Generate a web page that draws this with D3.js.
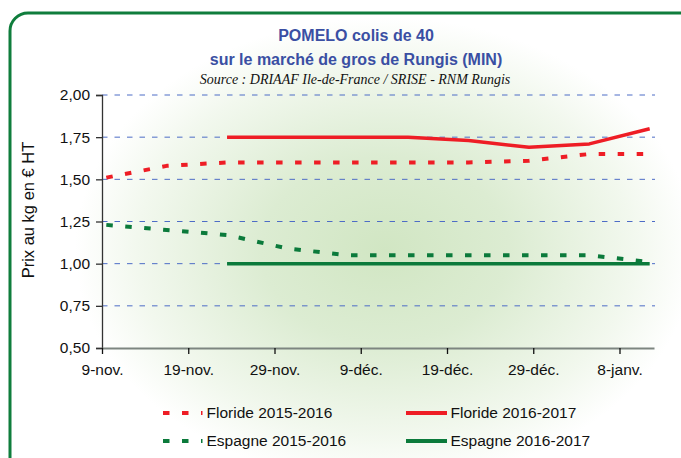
<!DOCTYPE html>
<html>
<head>
<meta charset="utf-8">
<script src="https://cdn.jsdelivr.net/npm/d3@7"></script>
<style>
  html, body { margin: 0; padding: 0; background: #fff; }
  svg { display: block; }
</style>
</head>
<body>
<svg id="chart" width="681" height="458"></svg>
<script>
// tick labels on the date axis (day offsets from 9-nov.)
const xTickDays = [0, 10, 20, 30, 40, 50, 60];
const xTickLabels = ["9-nov.", "19-nov.", "29-nov.", "9-déc.", "19-déc.", "29-déc.", "8-janv."];
const yTicks = [0.5, 0.75, 1.0, 1.25, 1.5, 1.75, 2.0];

// weekly quotations, day offset from 9-nov.
const days1516 = [0, 7, 14, 21, 28, 35, 42, 49, 56, 63];
const floride1516 = [1.51, 1.58, 1.60, 1.60, 1.60, 1.60, 1.60, 1.61, 1.65, 1.65];
const espagne1516 = [1.23, 1.20, 1.17, 1.09, 1.05, 1.05, 1.05, 1.05, 1.05, 1.01];

const days1617 = [14, 21, 28, 35, 42, 49, 56, 63];
const floride1617 = [1.75, 1.75, 1.75, 1.75, 1.73, 1.69, 1.71, 1.80];
const espagne1617 = [1.00, 1.00, 1.00, 1.00, 1.00, 1.00, 1.00, 1.00];

const RED = "#ee1d25";
const GREEN = "#0b7a3b";
const FONT = "'Liberation Sans', Arial, sans-serif";

const svg = d3.select("#chart");
const W = 681, H = 458;
const plot = { left: 102, right: 654, top: 95, bottom: 348 };

// background
const defs = svg.append("defs");
const grad = defs.append("radialGradient")
  .attr("id", "bg")
  .attr("gradientUnits", "userSpaceOnUse")
  .attr("cx", 385).attr("cy", 250).attr("r", 310)
  .attr("gradientTransform", "translate(385,250) scale(1,0.75) translate(-385,-250)");
grad.append("stop").attr("offset", 0).attr("stop-color", "#d1e6c3");
grad.append("stop").attr("offset", 0.4).attr("stop-color", "#dcecd2");
grad.append("stop").attr("offset", 0.8).attr("stop-color", "#f2f8ee");
grad.append("stop").attr("offset", 1).attr("stop-color", "#ffffff");

svg.append("rect")
  .attr("x", 10).attr("y", 13)
  .attr("width", W + 30).attr("height", H + 30)
  .attr("rx", 18)
  .attr("fill", "url(#bg)")
  .attr("stroke", "#0f7d3c")
  .attr("stroke-width", 3);

// title
const title = svg.append("g")
  .attr("text-anchor", "middle")
  .attr("font-family", FONT);
title.append("text")
  .attr("x", 356).attr("y", 41)
  .attr("font-size", 16).attr("font-weight", "bold")
  .attr("fill", "#3a4fa3")
  .text("POMELO colis de 40");
title.append("text")
  .attr("x", 356).attr("y", 64.5)
  .attr("font-size", 16).attr("font-weight", "bold")
  .attr("fill", "#3a4fa3")
  .text("sur le marché de gros de Rungis (MIN)");
title.append("text")
  .attr("x", 355).attr("y", 83.5)
  .attr("font-family", "'Liberation Serif', 'Times New Roman', serif")
  .attr("font-style", "italic")
  .attr("font-size", 14)
  .attr("fill", "#111")
  .text("Source : DRIAAF Ile-de-France / SRISE - RNM Rungis");

// scales
const x = d3.scaleLinear().domain([0, 64]).range([plot.left, plot.right]);
const y = d3.scaleLinear().domain([0.5, 2.0]).range([plot.bottom, plot.top]);
// points sit in the middle of their day slot
const px = d => x(d + 0.5);

// gridlines
svg.append("g")
  .selectAll("line")
  .data(yTicks.filter(v => v > 0.5))
  .enter().append("line")
  .attr("x1", plot.left).attr("x2", plot.right + 1)
  .attr("y1", d => y(d)).attr("y2", d => y(d))
  .attr("stroke", "#4d6cc6")
  .attr("stroke-width", 1)
  .attr("stroke-dasharray", "5.5,7");

// axes
const yAxis = svg.append("g")
  .attr("transform", `translate(${plot.left},0)`)
  .call(d3.axisLeft(y).tickValues(yTicks).tickSize(6).tickPadding(6)
    .tickFormat(d => d3.format(".2f")(d).replace(".", ",")));
yAxis.select(".domain").attr("stroke", "#333").attr("stroke-width", 1.3);
yAxis.selectAll(".tick line").attr("stroke", "#333").attr("stroke-width", 1.3);
yAxis.selectAll("text")
  .attr("font-family", FONT)
  .attr("font-size", 15.5).attr("fill", "#111");

const xAxis = svg.append("g")
  .attr("transform", `translate(0,${plot.bottom})`)
  .call(d3.axisBottom(x).tickValues(xTickDays).tickSize(6).tickSizeOuter(0).tickPadding(10)
    .tickFormat((d, i) => xTickLabels[i]));
xAxis.select(".domain").attr("stroke", "#7d8580").attr("stroke-width", 2);
xAxis.selectAll(".tick line").attr("stroke", "#111").attr("stroke-width", 1.3);
xAxis.selectAll(".tick").filter(d => d === 0).select("line").attr("y1", 0);
xAxis.selectAll("text")
  .attr("font-family", FONT)
  .attr("font-size", 15.5).attr("fill", "#111");

// y axis title
svg.append("text")
  .attr("transform", "translate(34,210) rotate(-90)")
  .attr("text-anchor", "middle")
  .attr("font-family", FONT)
  .attr("font-size", 16.5).attr("fill", "#111")
  .text("Prix au kg en € HT");

// series
const series = [
  { name: "Floride 2015-2016", days: days1516, values: floride1516, color: RED, dashed: true },
  { name: "Floride 2016-2017", days: days1617, values: floride1617, color: RED, dashed: false },
  { name: "Espagne 2015-2016", days: days1516, values: espagne1516, color: GREEN, dashed: true },
  { name: "Espagne 2016-2017", days: days1617, values: espagne1617, color: GREEN, dashed: false }
];

const line = d3.line()
  .x(d => px(d[0]))
  .y(d => y(d[1]));

svg.append("g")
  .selectAll("path")
  .data(series)
  .enter().append("path")
  .attr("d", s => line(s.days.map((d, i) => [d, s.values[i]])))
  .attr("fill", "none")
  .attr("stroke", s => s.color)
  .attr("stroke-width", s => s.dashed ? 4 : 3.5)
  .attr("stroke-dasharray", s => s.dashed ? "6.5,12.5" : null)
  .attr("stroke-linejoin", "round");

// legend
const legend = svg.append("g")
  .attr("font-family", FONT)
  .attr("font-size", 15.5)
  .selectAll("g")
  .data(series)
  .enter().append("g")
  .attr("transform", (d, i) => `translate(${i % 2 ? 406 : 163},${i < 2 ? 413 : 441})`);

legend.append("line")
  .attr("x1", 0).attr("x2", d => d.dashed ? 39.5 : 41)
  .attr("stroke", d => d.color)
  .attr("stroke-width", 4)
  .attr("stroke-dasharray", d => d.dashed ? "6.5,12.5" : null);

legend.append("text")
  .attr("x", d => d.dashed ? 43.5 : 44.5)
  .attr("dy", "0.35em")
  .attr("fill", "#111")
  .text(d => d.name);
</script>
</body>
</html>
